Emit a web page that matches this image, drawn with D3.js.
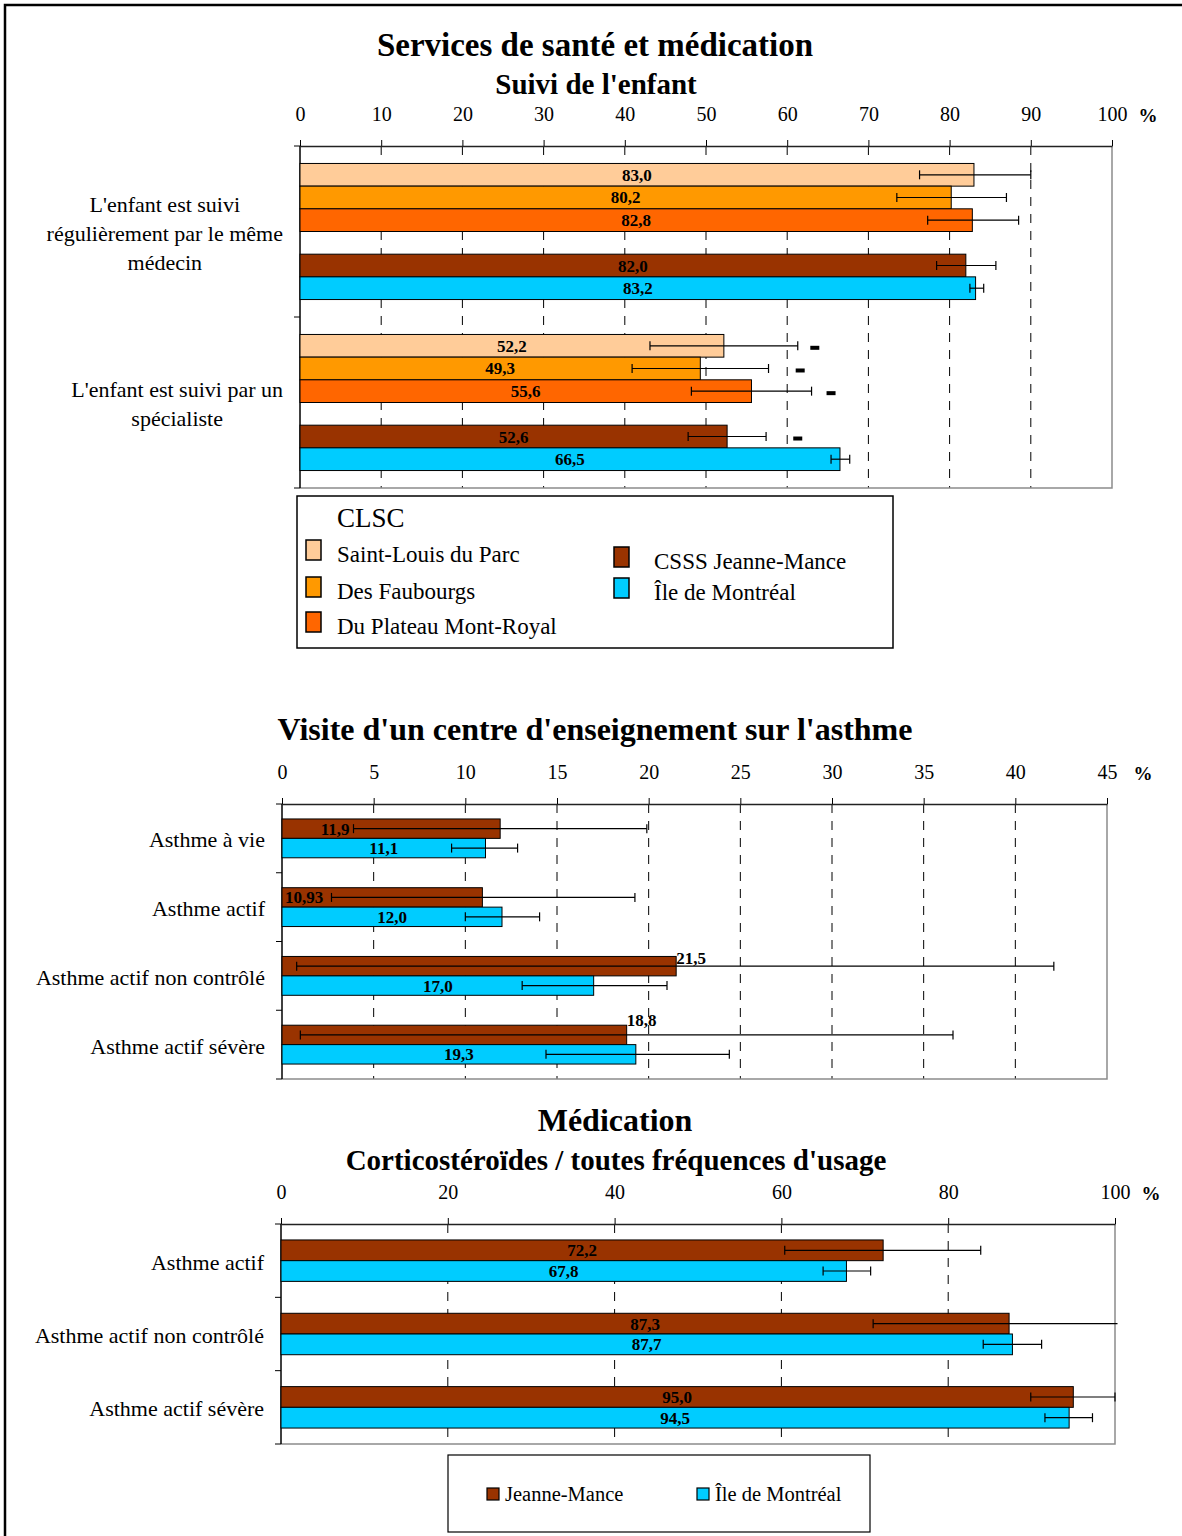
<!DOCTYPE html>
<html>
<head>
<meta charset="utf-8">
<script src="https://cdn.jsdelivr.net/npm/d3@7"></script>
<style>
  body { margin: 0; background: #fff; }
  svg { display: block; font-family: "Liberation Serif", "Times New Roman", serif; }
</style>
</head>
<body>
<div id="chart"></div>
<script>
// ---- data ----
const clscSeries = ["Saint-Louis du Parc", "Des Faubourgs", "Du Plateau Mont-Royal", "CSSS Jeanne-Mance", "Île de Montréal"];
const suiviCategories = [["L'enfant est suivi", "régulièrement par le même", "médecin"], ["L'enfant est suivi par un", "spécialiste"]];
const suiviValues = [[83.0, 80.2, 82.8, 82.0, 83.2], [52.2, 49.3, 55.6, 52.6, 66.5]];
const suiviLow = [[76.3, 73.5, 77.3, 78.4, 82.5], [43.1, 40.9, 48.2, 47.8, 65.4]];
const suiviHigh = [[90.0, 87.0, 88.5, 85.7, 84.2], [61.3, 57.7, 63.0, 57.4, 67.7]];
// "-" marks (significantly lower than Montréal), placed at these % values
const suiviSignif = [[null, null, null, null, null], [63.4, 61.6, 65.4, 61.3, null]];
const suiviTicks = [0, 10, 20, 30, 40, 50, 60, 70, 80, 90, 100];

const jmSeries = ["Jeanne-Mance", "Île de Montréal"];
const cecCategories = [["Asthme à vie"], ["Asthme actif"], ["Asthme actif non contrôlé"], ["Asthme actif sévère"]];
const cecValues = [[11.9, 11.1], [10.93, 12.0], [21.5, 17.0], [18.8, 19.3]];
const cecLow = [[3.9, 9.25], [2.7, 10.0], [0.8, 13.1], [1.0, 14.4]];
const cecHigh = [[19.9, 12.85], [19.25, 14.05], [42.1, 21.0], [36.6, 24.4]];
const cecTicks = [0, 5, 10, 15, 20, 25, 30, 35, 40, 45];

const corticoCategories = [["Asthme actif"], ["Asthme actif non contrôlé"], ["Asthme actif sévère"]];
const corticoValues = [[72.2, 67.8], [87.3, 87.7], [95.0, 94.5]];
const corticoLow = [[60.4, 65.0], [71.0, 84.2], [89.9, 91.6]];
const corticoHigh = [[83.9, 70.7], [100.3, 91.2], [100.0, 97.3]];
const corticoTicks = [0, 20, 40, 60, 80, 100];

const colors = {
  "Saint-Louis du Parc": "#FFCC99",
  "Des Faubourgs": "#FF9900",
  "Du Plateau Mont-Royal": "#FF6600",
  "CSSS Jeanne-Mance": "#993300",
  "Jeanne-Mance": "#993300",
  "Île de Montréal": "#00CCFF"
};

const W = 1182, H = 1536;
const svg = d3.select("#chart").append("svg").attr("width", W).attr("height", H);

// page frame (left and top only are visible)
svg.append("path").attr("d", `M5,${H} V5 H${W}`).attr("fill", "none").attr("stroke", "#000").attr("stroke-width", 2.5);

function fmt(v) {
  const s = Math.abs(v * 10 - Math.round(v * 10)) < 1e-9 ? v.toFixed(1) : String(v);
  return s.replace(".", ",");
}

function title(text, x, y, size) {
  svg.append("text").attr("x", x).attr("y", y).attr("text-anchor", "middle")
    .attr("font-weight", "bold").attr("font-size", size).text(text);
}

function drawPanel(opt) {
  const g = svg.append("g");
  const x = d3.scaleLinear().domain([opt.ticks[0], opt.ticks[opt.ticks.length - 1]]).range([opt.left, opt.right]);
  const y = d3.scaleBand().domain(d3.range(opt.categories.length)).range([opt.top, opt.bottom]);
  const inner = d3.scaleBand().domain(opt.slots).range([0, y.bandwidth()]).paddingOuter(0.77);

  // dashed gridlines
  g.selectAll("line.grid")
    .data(opt.ticks.slice(1, -1))
    .join("line")
    .attr("x1", d => x(d)).attr("x2", d => x(d))
    .attr("y1", opt.top).attr("y2", opt.bottom)
    .attr("stroke", "#000").attr("stroke-width", 1)
    .attr("stroke-dasharray", "9,8");

  // plot frame right / bottom
  g.append("path")
    .attr("d", `M${opt.right},${opt.top} V${opt.bottom} H${opt.left}`)
    .attr("fill", "none").attr("stroke", "#8c8c8c").attr("stroke-width", 1.5);

  // top axis
  const axis = g.append("g")
    .attr("transform", `translate(0,${opt.top})`)
    .call(d3.axisTop(x).tickValues(opt.ticks).tickSizeInner(6).tickSizeOuter(0).tickPadding(19).tickFormat(d3.format("d")));
  axis.select(".domain").attr("stroke", "#222").attr("stroke-width", 1.5);
  axis.selectAll(".tick line").attr("stroke", "#000");
  axis.selectAll(".tick text").attr("font-size", 20).attr("font-family", "Liberation Serif").attr("fill", "#000");
  g.append("text").attr("x", opt.right + 36).attr("y", opt.top - 24)
    .attr("text-anchor", "middle").attr("font-size", 19).attr("font-weight", "bold").text("%");

  // left axis with ticks at category boundaries
  g.append("line").attr("x1", opt.left).attr("x2", opt.left).attr("y1", opt.top).attr("y2", opt.bottom)
    .attr("stroke", "#000").attr("stroke-width", 1.5);
  const bounds = y.domain().map(i => y(i)).concat([opt.bottom]);
  g.selectAll("line.ctick").data(bounds).join("line")
    .attr("x1", opt.left - 6).attr("x2", opt.left).attr("y1", d => d).attr("y2", d => d)
    .attr("stroke", "#000");

  // category labels: block centred, right edge near the axis
  opt.categories.forEach((lines, i) => {
    const cy = y(i) + y.bandwidth() / 2 + 2;
    const lh = 29;
    const t = g.append("text").attr("font-size", 22).attr("text-anchor", "middle");
    lines.forEach((ln, k) => {
      t.append("tspan").attr("x", 0).attr("y", cy + (k - (lines.length - 1) / 2) * lh + 7).text(ln);
    });
    let maxW = 0;
    t.selectAll("tspan").each(function () { maxW = Math.max(maxW, this.getComputedTextLength()); });
    t.selectAll("tspan").attr("x", opt.left - 17 - maxW / 2);
  });

  // bars
  const rows = [];
  opt.values.forEach((vals, i) => {
    vals.forEach((v, j) => {
      rows.push({
        cat: i, key: opt.series[j], idx: j, value: v,
        low: opt.low[i][j], high: opt.high[i][j],
        signif: opt.signif ? opt.signif[i][j] : null
      });
    });
  });
  const by = d => y(d.cat) + inner(d.key);
  const bh = inner.bandwidth();

  g.selectAll("rect.bar").data(rows).join("rect")
    .attr("x", x(0)).attr("y", by)
    .attr("width", d => x(d.value) - x(0)).attr("height", bh)
    .attr("fill", d => colors[d.key]).attr("stroke", "#000").attr("stroke-width", 1);

  // error bars
  const eb = g.selectAll("g.err").data(rows).join("g")
    .attr("transform", d => `translate(0,${by(d) + bh / 2})`);
  eb.append("line").attr("x1", d => x(d.low)).attr("x2", d => x(d.high))
    .attr("stroke", "#000").attr("stroke-width", 1.2);
  eb.append("line").attr("x1", d => x(d.low)).attr("x2", d => x(d.low)).attr("y1", -4.5).attr("y2", 4.5)
    .attr("stroke", "#000").attr("stroke-width", 1.2);
  eb.filter(d => d.high <= x.domain()[1])
    .append("line").attr("x1", d => x(d.high)).attr("x2", d => x(d.high)).attr("y1", -4.5).attr("y2", 4.5)
    .attr("stroke", "#000").attr("stroke-width", 1.2);

  // significance marks
  g.selectAll("rect.sig").data(rows.filter(d => d.signif != null)).join("rect")
    .attr("x", d => x(d.signif) - 4.5).attr("y", d => by(d) + bh / 2)
    .attr("width", 9).attr("height", 4).attr("fill", "#000");

  // value labels
  g.selectAll("text.val").data(rows).join("text")
    .attr("font-size", 17).attr("font-weight", "bold").attr("fill", "#000")
    .each(function (d) {
      const p = opt.place ? opt.place(d, x, by(d), bh) : null;
      const sel = d3.select(this);
      if (p) {
        sel.attr("x", p.x).attr("y", p.y).attr("text-anchor", p.anchor);
      } else {
        sel.attr("x", (x(0) + x(d.value)) / 2).attr("y", by(d) + bh / 2 + 6).attr("text-anchor", "middle");
      }
    })
    .text(d => fmt(d.value));
}

// ---- panel 1 ----
title("Services de santé et médication", 595, 56, 33);
title("Suivi de l'enfant", 596, 94, 29);
drawPanel({
  left: 300, right: 1112, top: 146, bottom: 488,
  ticks: suiviTicks,
  categories: suiviCategories,
  series: clscSeries,
  slots: ["Saint-Louis du Parc", "Des Faubourgs", "Du Plateau Mont-Royal", "_gap", "CSSS Jeanne-Mance", "Île de Montréal"],
  values: suiviValues, low: suiviLow, high: suiviHigh, signif: suiviSignif
});

// legend 1
const lg1 = svg.append("g");
lg1.append("rect").attr("x", 297).attr("y", 496).attr("width", 596).attr("height", 152)
  .attr("fill", "#fff").attr("stroke", "#000").attr("stroke-width", 1.5);
lg1.append("text").attr("x", 337).attr("y", 527).attr("font-size", 27).text("CLSC");
const lg1Pos = [[306, 550], [306, 587], [306, 622], [614, 557], [614, 588]];
clscSeries.forEach((s, i) => {
  const [lx, ly] = lg1Pos[i];
  lg1.append("rect").attr("x", lx).attr("y", ly - 10).attr("width", 15).attr("height", 20)
    .attr("fill", colors[s]).attr("stroke", "#000").attr("stroke-width", 1.5);
  lg1.append("text").attr("x", lx + (i < 3 ? 31 : 40)).attr("y", ly + 12).attr("font-size", 23).text(s);
});

// ---- panel 2 ----
title("Visite d'un centre d'enseignement sur l'asthme", 595, 740, 32);
const cecPlace = {
  0: (d, x, top, bh) => ({ x: x(2.9), y: top + bh / 2 + 6, anchor: "middle" }),
  1: (d, x, top, bh) => ({ x: x(1.2), y: top + bh / 2 + 6, anchor: "middle" }),
  2: (d, x, top, bh) => ({ x: x(d.value), y: top + 8, anchor: "start" }),
  3: (d, x, top, bh) => ({ x: x(d.value), y: top + 1, anchor: "start" })
};
drawPanel({
  left: 282, right: 1107, top: 804, bottom: 1079,
  ticks: cecTicks,
  categories: cecCategories,
  series: jmSeries,
  slots: jmSeries,
  values: cecValues, low: cecLow, high: cecHigh,
  place: (d, x, top, bh) => d.idx === 0 ? cecPlace[d.cat](d, x, top, bh) : null
});

// ---- panel 3 ----
title("Médication", 615, 1131, 32);
title("Corticostéroïdes / toutes fréquences d'usage", 616, 1170, 29);
drawPanel({
  left: 281, right: 1115, top: 1224, bottom: 1444,
  ticks: corticoTicks,
  categories: corticoCategories,
  series: jmSeries,
  slots: jmSeries,
  values: corticoValues, low: corticoLow, high: corticoHigh
});

// legend 3
const lg3 = svg.append("g");
lg3.append("rect").attr("x", 448).attr("y", 1455).attr("width", 422).attr("height", 77)
  .attr("fill", "#fff").attr("stroke", "#000").attr("stroke-width", 1.2);
const lg3X = [487, 697];
jmSeries.forEach((s, i) => {
  lg3.append("rect").attr("x", lg3X[i]).attr("y", 1488).attr("width", 12).attr("height", 12)
    .attr("fill", colors[s]).attr("stroke", "#000").attr("stroke-width", 1.2);
  lg3.append("text").attr("x", lg3X[i] + 18).attr("y", 1501).attr("font-size", 20.5).text(s);
});
</script>
</body>
</html>
